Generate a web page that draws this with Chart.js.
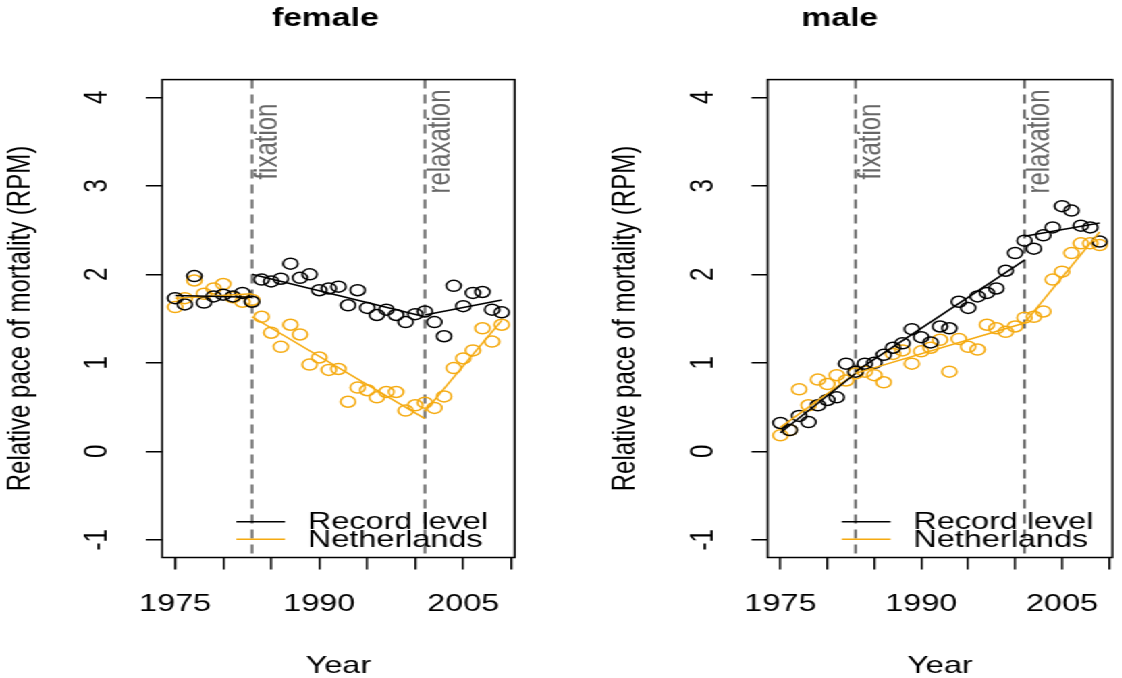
<!DOCTYPE html>
<html>
<head>
<meta charset="utf-8">
<script src="https://cdn.jsdelivr.net/npm/chart.js@4/dist/chart.umd.min.js"></script>
<style>
    html, body { margin: 0; padding: 0; background: #fff; overflow: hidden; }
    /* the reference is stretched sideways, so draw narrow and widen */
    #wrap { position: absolute; left: 0; top: 0; width: 831px; height: 678px; transform: scaleX(1.35); transform-origin: 0 0; }
    #female { position: absolute; left: 0; top: 0; }
    #male { position: absolute; left: 415px; top: 0; }
</style>
</head>
<body>
<div id="wrap">
    <canvas id="female" width="415" height="678"></canvas>
    <canvas id="male" width="416" height="678"></canvas>
</div>
<script>
// data
const years = [1975, 1976, 1977, 1978, 1979, 1980, 1981, 1982, 1983, 1984, 1985, 1986,
    1987, 1988, 1989, 1990, 1991, 1992, 1993, 1994, 1995, 1996, 1997, 1998,
    1999, 2000, 2001, 2002, 2003, 2004, 2005, 2006, 2007, 2008, 2009];

const femaleRecord = [1.73, 1.66, 1.98, 1.68, 1.75, 1.77, 1.75, 1.79, 1.69, 1.94, 1.92, 1.95,
    2.12, 1.96, 2.00, 1.82, 1.84, 1.86, 1.65, 1.82, 1.62, 1.54, 1.60, 1.54,
    1.46, 1.55, 1.58, 1.46, 1.30, 1.87, 1.64, 1.79, 1.80, 1.60, 1.57];
const femaleNetherlands = [1.63, 1.73, 1.93, 1.78, 1.84, 1.89, 1.74, 1.69, 1.71, 1.52, 1.34, 1.18,
    1.43, 1.32, 0.98, 1.06, 0.92, 0.93, 0.56, 0.72, 0.69, 0.61, 0.67, 0.67,
    0.46, 0.52, 0.55, 0.49, 0.62, 0.94, 1.05, 1.14, 1.39, 1.24, 1.43];

const maleRecord = [0.32, 0.24, 0.40, 0.33, 0.52, 0.58, 0.61, 0.99, 0.90, 0.99, 1.00, 1.09,
    1.17, 1.22, 1.38, 1.29, 1.23, 1.41, 1.39, 1.69, 1.62, 1.75, 1.79, 1.84,
    2.04, 2.24, 2.38, 2.29, 2.44, 2.53, 2.77, 2.72, 2.55, 2.53, 2.37];
const maleNetherlands = [0.18, 0.24, 0.70, 0.52, 0.81, 0.76, 0.86, 0.80, 0.88, 0.90, 0.86, 0.78,
    1.10, 1.14, 0.99, 1.13, 1.17, 1.26, 0.90, 1.27, 1.18, 1.15, 1.43, 1.39,
    1.35, 1.41, 1.51, 1.52, 1.58, 1.94, 2.03, 2.24, 2.35, 2.35, 2.33];

// piecewise fits, null = break between segments
const fitFemaleRecord = [[1975, 1.76], [1983, 1.74], null, [1983, 2.00], [2001, 1.52], null, [2001, 1.54], [2009, 1.71]];
const fitFemaleNetherlands = [[1975, 1.73], [1983, 1.78], null, [1983, 1.52], [2001, 0.37], null, [2001, 0.45], [2009, 1.48]];
const fitMaleRecord = [[1975, 0.21], [1983, 0.88], null, [1983, 0.90], [2001, 2.16], null, [2001, 2.43], [2009, 2.58]];
const fitMaleNetherlands = [[1975, 0.27], [1983, 0.88], null, [1983, 0.88], [2001, 1.45], null, [2001, 1.45], [2009, 2.48]];

const breakYears = [1983, 2001];
const breakLabels = ['fixation', 'relaxation'];
const seriesLabels = ['Record level', 'Netherlands'];

const xTicks = [1975, 1980, 1985, 1990, 1995, 2000, 2005, 2010];
const xTickLabels = [1975, 1990, 2005];
const yTicks = [-1, 0, 1, 2, 3, 4];

const BLACK = '#000000';
const ORANGE = '#F5AA10';
const GREY = '#666666';
const FONT = '"Liberation Sans", Arial, sans-serif';

function points(vals) {
    return vals.map((v, i) => ({ x: years[i], y: v }));
}

function fitLine(segs) {
    let out = [];
    let last = null;
    segs.forEach(p => {
        if (p === null) {
            out.push({ x: last, y: null });
        } else {
            out.push({ x: p[0], y: p[1] });
            last = p[0];
        }
    });
    return out;
}

// box, break lines, legend and panel title
const decor = {
    id: 'decor',
    beforeDatasetsDraw(chart) {
        const { ctx, chartArea: a, scales: { x, y } } = chart;
        ctx.save();
        breakYears.forEach((yr, i) => {
            const px = x.getPixelForValue(yr);
            ctx.strokeStyle = GREY;
            ctx.lineWidth = 2;
            ctx.setLineDash([9, 6]);
            ctx.beginPath();
            ctx.moveTo(px, a.top);
            ctx.lineTo(px, a.bottom);
            ctx.stroke();

            ctx.save();
            ctx.translate(px, y.getPixelForValue(3.5));
            ctx.rotate(-Math.PI / 2);
            ctx.fillStyle = GREY;
            ctx.font = '24px ' + FONT;
            ctx.textAlign = 'center';
            ctx.textBaseline = 'alphabetic';
            ctx.fillText(breakLabels[i], 0, 18);
            ctx.restore();
        });
        ctx.restore();
    },
    afterDraw(chart, args, opts) {
        const { ctx, chartArea: a } = chart;
        ctx.save();
        ctx.setLineDash([]);
        ctx.strokeStyle = BLACK;
        ctx.lineWidth = 1.5;
        ctx.strokeRect(a.left, a.top, a.right - a.left, a.bottom - a.top);

        // legend
        const colors = [BLACK, ORANGE];
        const rows = [a.bottom - 35.8, a.bottom - 18.2];
        ctx.font = '24px ' + FONT;
        ctx.textBaseline = 'middle';
        ctx.textAlign = 'left';
        seriesLabels.forEach((lab, i) => {
            ctx.strokeStyle = colors[i];
            ctx.lineWidth = 1.5;
            ctx.beginPath();
            ctx.moveTo(a.left + 55, rows[i]);
            ctx.lineTo(a.left + 91, rows[i]);
            ctx.stroke();
            ctx.fillStyle = BLACK;
            ctx.fillText(lab, a.left + 108, rows[i] + 1);
        });

        // title
        ctx.font = 'bold 25px ' + FONT;
        ctx.textAlign = 'center';
        ctx.textBaseline = 'middle';
        ctx.fillText(opts.title, opts.titleX, 19);
        ctx.restore();
    }
};

function makePanel(id, title, titleX, padLeft, padRight, record, nl, fitRec, fitNl) {
    new Chart(document.getElementById(id), {
        type: 'scatter',
        data: {
            datasets: [
                {
                    label: seriesLabels[0],
                    data: points(record),
                    borderColor: BLACK,
                    backgroundColor: 'rgba(0,0,0,0)',
                    pointRadius: 5.5,
                    borderWidth: 1.5,
                    order: 2
                },
                {
                    label: seriesLabels[1],
                    data: points(nl),
                    borderColor: ORANGE,
                    backgroundColor: 'rgba(0,0,0,0)',
                    pointRadius: 5.5,
                    borderWidth: 1.5,
                    order: 3
                },
                {
                    type: 'line',
                    label: 'fit record',
                    data: fitLine(fitRec),
                    borderColor: BLACK,
                    borderWidth: 1.5,
                    pointRadius: 0,
                    spanGaps: false,
                    order: 0
                },
                {
                    type: 'line',
                    label: 'fit nl',
                    data: fitLine(fitNl),
                    borderColor: ORANGE,
                    borderWidth: 1.5,
                    pointRadius: 0,
                    spanGaps: false,
                    order: 1
                }
            ]
        },
        options: {
            responsive: false,
            animation: false,
            events: [],
            layout: { padding: { left: padLeft, right: padRight, top: 79.6, bottom: 0 } },
            plugins: {
                legend: { display: false },
                tooltip: { enabled: false },
                decor: { title: title, titleX: titleX }
            },
            scales: {
                x: {
                    type: 'linear',
                    min: 1973.64,
                    max: 2010.36,
                    afterBuildTicks: (s) => { s.ticks = xTicks.map(v => ({ value: v })); },
                    afterFit: (s) => { s.height = 120.5; s.paddingLeft = 0; s.paddingRight = 0; },
                    grid: { drawOnChartArea: false, drawTicks: true, tickLength: 12, color: BLACK, lineWidth: 1.5 },
                    border: { display: false },
                    ticks: {
                        autoSkip: false,
                        maxRotation: 0,
                        padding: 20,
                        color: BLACK,
                        font: { family: FONT, size: 24 },
                        callback: (v) => xTickLabels.includes(v) ? String(v) : ''
                    },
                    title: {
                        display: true,
                        text: 'Year',
                        color: BLACK,
                        font: { family: FONT, size: 24 },
                        padding: { top: 0, bottom: -3 }
                    }
                },
                y: {
                    min: -1.2,
                    max: 4.2,
                    afterBuildTicks: (s) => { s.ticks = yTicks.map(v => ({ value: v })); },
                    afterFit: (s) => { s.width = 120.1; },
                    grid: { drawOnChartArea: false, drawTicks: true, tickLength: 12, color: BLACK, lineWidth: 1.5 },
                    border: { display: false },
                    ticks: {
                        minRotation: 90,
                        maxRotation: 90,
                        crossAlign: 'center',
                        padding: 24.9,
                        color: BLACK,
                        font: { family: FONT, size: 24 }
                    },
                    title: {
                        display: true,
                        text: 'Relative pace of mortality (RPM)',
                        color: BLACK,
                        font: { family: FONT, size: 24 },
                        padding: { top: 0.5, bottom: 0 }
                    }
                }
            }
        },
        plugins: [decor]
    });
}

makePanel('female', 'female', 241, 0, 33.7, femaleRecord, femaleNetherlands, fitFemaleRecord, fitFemaleNetherlands);
makePanel('male', 'male', 207, 33.5, 1.2, maleRecord, maleNetherlands, fitMaleRecord, fitMaleNetherlands);
</script>
</body>
</html>
